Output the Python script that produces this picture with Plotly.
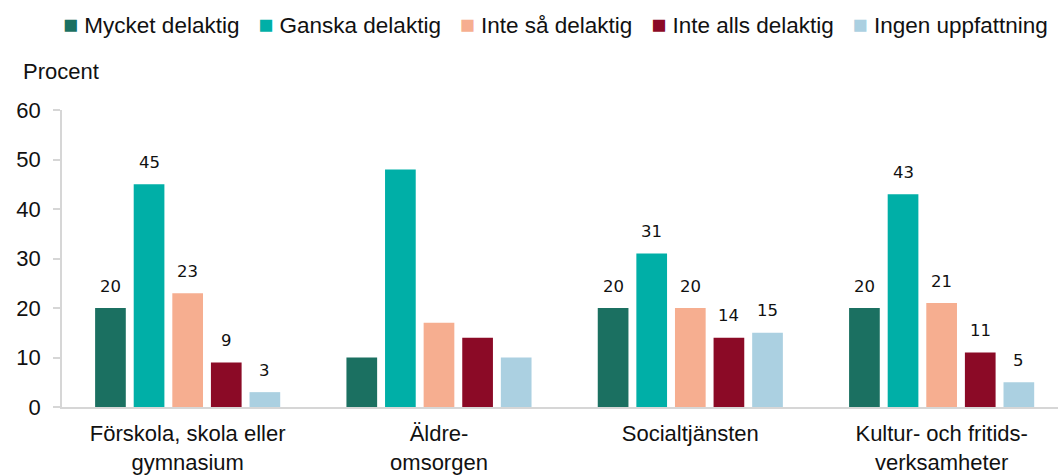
import plotly.graph_objects as go

# Survey: perceived involvement per municipal service area (percent)
categories = [
    "Förskola, skola eller<br>gymnasium",
    "Äldre-<br>omsorgen",
    "Socialtjänsten",
    "Kultur- och fritids-<br>verksamheter",
]
series_names = [
    "Mycket delaktig",
    "Ganska delaktig",
    "Inte så delaktig",
    "Inte alls delaktig",
    "Ingen uppfattning",
]
mycket = [20, 10, 20, 20]
ganska = [45, 48, 31, 43]
inte_sa = [23, 17, 20, 21]
inte_alls = [9, 14, 14, 11]
ingen = [3, 10, 15, 5]
# value labels are printed for every group except Äldreomsorgen
show_labels = [True, False, True, True]

series_values = [mycket, ganska, inte_sa, inte_alls, ingen]
colors = ["#1b7061", "#00afa7", "#f6ae90", "#8b0a26", "#abd0e1"]

MAIN_FONT = "Liberation Sans, Arial, sans-serif"
LABEL_FONT = "DejaVu Sans, Verdana, sans-serif"
TEXT_COLOR = "#111111"
AXIS_COLOR = "#d6d6d6"

fig = go.Figure()
for name, vals, col in zip(series_names, series_values, colors):
    fig.add_trace(go.Bar(
        name=name,
        x=categories,
        y=vals,
        marker=dict(color=col, line=dict(width=0)),
        showlegend=False,
        hoverinfo="skip",
    ))

# value labels above each bar, shifted to the bar's slot within its group
slot_px = 38.6
n = len(series_names)
annotations = []
for i, vals in enumerate(series_values):
    for cat, v, show in zip(categories, vals, show_labels):
        if not show:
            continue
        annotations.append(dict(
            x=cat, y=v, xref="x", yref="y",
            text=str(v), showarrow=False,
            xanchor="center", yanchor="middle",
            xshift=(i - (n - 1) / 2) * slot_px, yshift=22,
            font=dict(family=LABEL_FONT, size=16.5, color=TEXT_COLOR),
        ))

# legend row drawn as a single line of text with coloured squares
sep = "\u00a0" * 3
legend_text = sep.join(
    f"<span style='color:{c};font-size:25px'>■</span>\u00a0{nm}"
    for nm, c in zip(series_names, colors)
)
annotations.append(dict(
    x=0.4955, y=1.29, xref="paper", yref="paper",
    text=legend_text, showarrow=False,
    xanchor="center", yanchor="middle",
    font=dict(family=MAIN_FONT, size=22.5, color=TEXT_COLOR),
))
annotations.append(dict(
    x=-0.041, y=1.128, xref="paper", yref="paper",
    text="Procent", showarrow=False,
    xanchor="left", yanchor="middle",
    font=dict(family=MAIN_FONT, size=22, color=TEXT_COLOR),
))

fig.update_layout(
    width=1058, height=476,
    margin=dict(l=62, r=0, t=110, b=69),
    paper_bgcolor="white", plot_bgcolor="white",
    barmode="group", bargap=0.232, bargroupgap=0.205,
    font=dict(family=MAIN_FONT, size=22, color=TEXT_COLOR),
    annotations=annotations,
    showlegend=False,
)
fig.update_xaxes(
    type="category", range=[-0.5, 3.463],
    showline=True, linecolor=AXIS_COLOR, linewidth=2,
    ticks="", showgrid=False, zeroline=False,
    tickfont=dict(family=MAIN_FONT, size=22, color=TEXT_COLOR),
    ticklabelstandoff=6,
)
fig.update_yaxes(
    range=[0, 60], dtick=10,
    showline=True, linecolor=AXIS_COLOR, linewidth=1.5,
    ticks="outside", ticklen=7, tickcolor=AXIS_COLOR, tickwidth=1.5,
    showgrid=False, zeroline=False,
    tickfont=dict(family=MAIN_FONT, size=22, color=TEXT_COLOR),
    ticklabelstandoff=8,
)

fig.write_html("out.html")
